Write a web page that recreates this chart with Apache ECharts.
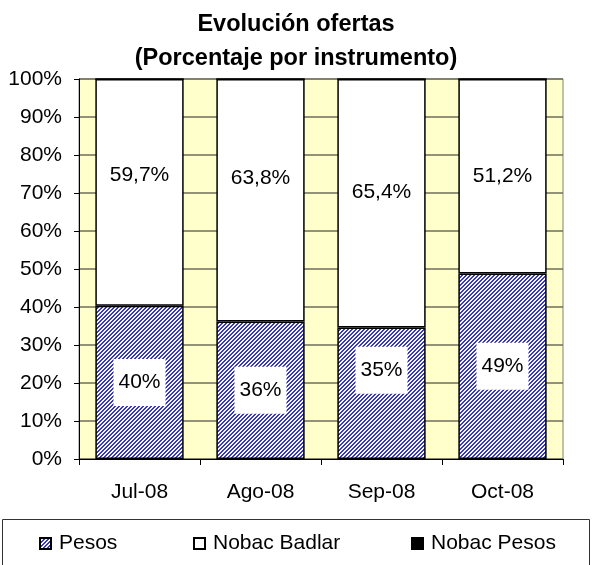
<!DOCTYPE html>
<html>
<head>
<meta charset="utf-8">
<script src="https://cdn.jsdelivr.net/npm/echarts@6/dist/echarts.min.js"></script>
<style>
    html, body { margin: 0; padding: 0; background: #fff; }
    #chart { width: 592px; height: 565px; }
</style>
</head>
<body>
<div id="chart"></div>
<script>
// Data
var months = ['Jul-08', 'Ago-08', 'Sep-08', 'Oct-08'];
var pesos = [40.3, 36.2, 34.6, 48.8];
var nobacBadlar = [59.7, 63.8, 65.4, 51.2];
var nobacPesos = [0, 0, 0, 0];

// Label nudges (pixels), as placed in the original
var pesosLabelDy = [0, 0, -23, 0];
var badlarLabelDy = [-17, -22, -11, 0];

var font = 'Liberation Sans, Arial, sans-serif';

// Hatched fill for Pesos
var makeHatch = function () {
    var c = document.createElement('canvas');
    c.width = 4;
    c.height = 4;
    var ctx = c.getContext('2d');
    ctx.fillStyle = '#f4f4ff';
    ctx.fillRect(0, 0, 4, 4);
    ctx.fillStyle = '#3a3ab0';
    for (var x = 0; x < 4; x++) {
        for (var y = 0; y < 4; y++) {
            if ((x + y) % 4 < 2) ctx.fillRect(x, y, 1, 1);
        }
    }
    return { image: c, repeat: 'repeat' };
};
var hatch = makeHatch();

var chart = echarts.init(document.getElementById('chart'));

var toItems = function (values, dys) {
    return values.map(function (v, i) {
        return { value: v, label: { offset: [0, dys[i]] } };
    });
};

chart.setOption({
    animation: false,
    textStyle: { fontFamily: font },

    title: {
        text: 'Evolución ofertas\n(Porcentaje por instrumento)',
        left: 'center',
        top: 3,
        padding: [5, 17, 5, 5],
        textStyle: {
            fontFamily: font,
            fontSize: 23.5,
            fontWeight: 'bold',
            lineHeight: 34,
            color: '#000'
        }
    },

    graphic: [{
        type: 'rect',
        shape: { x: 2.5, y: 519.5, width: 587, height: 50 },
        style: { fill: '#fff', stroke: '#333', lineWidth: 1 },
        z: -1
    }],

    legend: [
        { data: ['Pesos'], left: 34 },
        { data: ['Nobac Badlar'], left: 188 },
        { data: ['Nobac Pesos'], left: 406 }
    ].map(function (l) {
        return {
            data: l.data,
            left: l.left,
            top: 528,
            icon: 'rect',
            itemWidth: 11,
            itemHeight: 11,
            textStyle: { fontFamily: font, fontSize: 21, color: '#000', padding: [0, 0, 0, 3] }
        };
    }),

    grid: {
        left: 79,
        right: 29,
        top: 79,
        bottom: 106,
        show: true,
        backgroundColor: '#ffffcc',
        borderColor: '#808080',
        borderWidth: 1
    },

    xAxis: {
        type: 'category',
        data: months,
        axisLine: { lineStyle: { color: '#000', width: 1 } },
        axisTick: { show: true, length: 6, lineStyle: { color: '#000' } },
        axisLabel: { color: '#000', fontSize: 21, fontFamily: font, margin: 23 }
    },

    yAxis: {
        type: 'value',
        min: 0,
        max: 100,
        interval: 10,
        axisLine: { show: true, lineStyle: { color: '#000', width: 1 } },
        axisTick: { show: true, length: 5, lineStyle: { color: '#000' } },
        axisLabel: { color: '#000', fontSize: 21, fontFamily: font, margin: 17, formatter: '{value}%' },
        splitLine: { show: true, lineStyle: { color: '#6e6e5a', width: 1.5 } }
    },

    series: [{
        name: 'Pesos',
        type: 'bar',
        stack: 'total',
        barWidth: '73%',
        itemStyle: { color: hatch, borderColor: '#000', borderWidth: 1.5 },
        label: {
            show: true,
            position: 'inside',
            fontSize: 21,
            fontFamily: font,
            color: '#000',
            backgroundColor: '#fff',
            padding: [14, 5, 12, 5],
            formatter: function (p) { return Math.round(p.value) + '%'; }
        },
        data: toItems(pesos, pesosLabelDy)
    }, {
        name: 'Nobac Badlar',
        type: 'bar',
        stack: 'total',
        itemStyle: { color: '#fff', borderColor: '#000', borderWidth: 1.5 },
        label: {
            show: true,
            position: 'inside',
            fontSize: 21,
            fontFamily: font,
            color: '#000',
            formatter: function (p) { return p.value.toFixed(1).replace('.', ',') + '%'; }
        },
        data: toItems(nobacBadlar, badlarLabelDy)
    }, {
        name: 'Nobac Pesos',
        type: 'bar',
        stack: 'total',
        itemStyle: { color: '#000', borderColor: '#000', borderWidth: 1 },
        label: { show: false },
        data: nobacPesos
    }]
});
</script>
</body>
</html>
